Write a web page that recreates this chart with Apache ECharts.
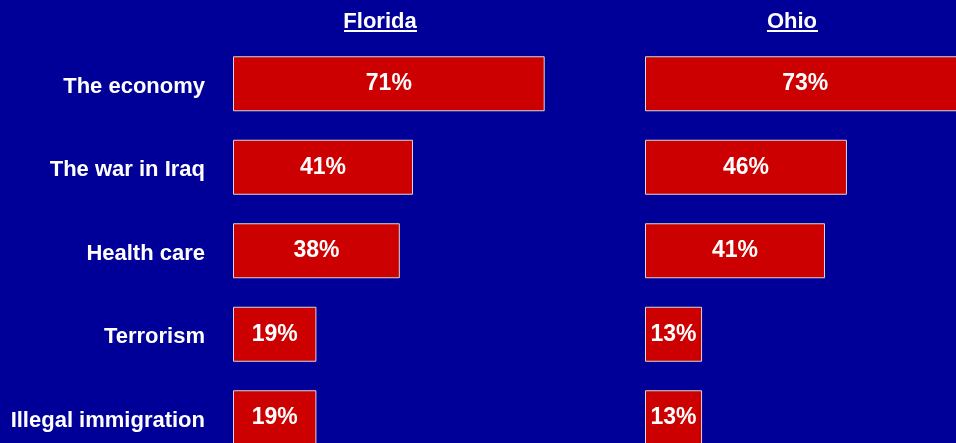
<!DOCTYPE html>
<html>
<head>
<meta charset="utf-8">
<script src="https://cdn.jsdelivr.net/npm/echarts@6/dist/echarts.min.js"></script>
<style>
html,body{margin:0;padding:0;background:#000099;}
#chart{width:956px;height:443px;}
</style>
</head>
<body>
<div id="chart"></div>
<script>
var categories = ['The economy', 'The war in Iraq', 'Health care', 'Terrorism', 'Illegal immigration'];
var floridaValues = [71, 41, 38, 19, 19];
var ohioValues = [73, 46, 41, 13, 13];
var panelTitles = ['Florida', 'Ohio'];

var FONT = '"Liberation Sans", Arial, sans-serif';
var chart = echarts.init(document.getElementById('chart'));

function barSeries(idx, values) {
  return {
    type: 'bar',
    xAxisIndex: idx,
    yAxisIndex: idx,
    data: values,
    barWidth: 55,
    itemStyle: { color: '#CC0000', borderColor: '#D8D8D8', borderWidth: 1 },
    label: {
      show: true,
      position: 'inside',
      formatter: '{c}%',
      color: '#FFFFFF',
      fontFamily: FONT,
      fontWeight: 'bold',
      fontSize: 23
    },
    silent: true,
    animation: false
  };
}

var option = {
  backgroundColor: '#000099',
  animation: false,
  title: [
    { text: panelTitles[0], left: 380, top: 11, padding: 0, textAlign: 'center',
      textStyle: { color: '#FFFFFF', fontFamily: FONT, fontWeight: 'bold', fontSize: 22 } },
    { text: panelTitles[1], left: 792, top: 11, padding: 0, textAlign: 'center',
      textStyle: { color: '#FFFFFF', fontFamily: FONT, fontWeight: 'bold', fontSize: 22 } }
  ],
  graphic: [
    { type: 'rect', shape: { x: 344, y: 30, width: 73, height: 2 }, style: { fill: '#FFFFFF' }, silent: true },
    { type: 'rect', shape: { x: 767, y: 30, width: 51, height: 2 }, style: { fill: '#FFFFFF' }, silent: true }
  ],
  grid: [
    { left: 233, top: 42, width: 439, height: 417.5, outerBoundsMode: 'none', containLabel: false },
    { left: 645, top: 42, width: 439, height: 417.5, outerBoundsMode: 'none', containLabel: false }
  ],
  xAxis: [
    { gridIndex: 0, type: 'value', min: 0, max: 100, show: false },
    { gridIndex: 1, type: 'value', min: 0, max: 100, show: false }
  ],
  yAxis: [
    { gridIndex: 0, type: 'category', data: categories, inverse: true,
      axisLine: { show: false }, axisTick: { show: false }, splitLine: { show: false },
      axisLabel: { color: '#FFFFFF', fontFamily: FONT, fontWeight: 'bold', fontSize: 22, margin: 28,
        verticalAlign: 'top', lineHeight: 6 } },
    { gridIndex: 1, type: 'category', data: categories, inverse: true, show: false }
  ],
  series: [barSeries(0, floridaValues), barSeries(1, ohioValues)]
};
chart.setOption(option);
</script>
</body>
</html>
